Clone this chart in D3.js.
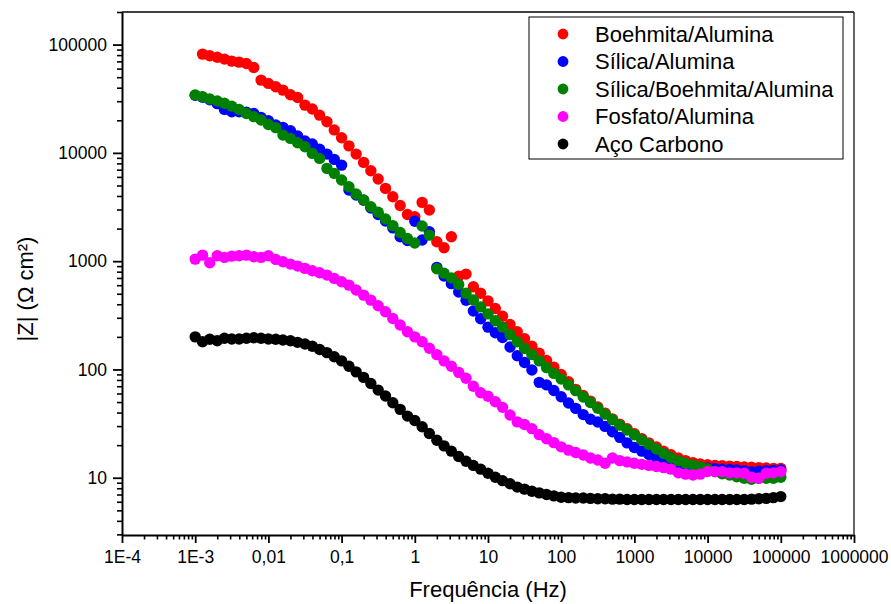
<!DOCTYPE html>
<html>
<head>
<meta charset="utf-8">
<script src="https://cdn.jsdelivr.net/npm/d3@7"></script>
<style>
  body { margin: 0; background: #fff; }
  svg text { font-family: "Liberation Sans", Arial, sans-serif; fill: #000; }
</style>
</head>
<body>
<svg id="chart" width="891" height="604"></svg>
<script>
// measurement frequencies (Hz), 10 points per decade
const freqHz = [
  0.001, 0.00126, 0.00158, 0.002, 0.00251, 0.00316, 0.00398, 0.00501, 0.00631, 0.00794,
  0.01, 0.0126, 0.0158, 0.02, 0.0251, 0.0316, 0.0398, 0.0501, 0.0631, 0.0794,
  0.1, 0.126, 0.158, 0.2, 0.251, 0.316, 0.398, 0.501, 0.631, 0.794,
  1, 1.26, 1.58, 2, 2.51, 3.16, 3.98, 5.01, 6.31, 7.94,
  10, 12.6, 15.8, 20, 25.1, 31.6, 39.8, 50.1, 63.1, 79.4,
  100, 126, 158, 200, 251, 316, 398, 501, 631, 794,
  1000, 1260, 1580, 2000, 2510, 3160, 3980, 5010, 6310, 7940,
  10000, 12600, 15800, 20000, 25100, 31600, 39800, 50100, 63100, 79400,
  100000
];

// |Z| in ohm cm2, one value per frequency (null = no point)
const boehmitaAlumina = [
  null, 81700, 78900, 76300, 73500, 70400, 68900, 66900, 61500, 47000,
  43800, 40800, 38000, 34400, 32500, 27600, 25400, 22300, 19400, 16300,
  13800, 11600, 9750, 8170, 6840, 5730, 4700, 3940, 3270, 2700,
  2570, 3490, 2970, 1510, 1330, 1680, 728, 760, 580, 506,
  430, 365, 310, 260, 223, 192, 164, 141, 121, 105,
  90, 77, 65.5, 57.5, 51, 45, 39.5, 35, 31.3, 28.3,
  25.5, 23, 21, 19.2, 17.6, 16.3, 15.2, 14.4, 13.8, 13.4,
  13.2, 13.0, 12.9, 12.8, 12.7, 12.6, 12.5, 12.4, 12.3, 12.2,
  12.2
];

const silicaAlumina = [
  34000, 32600, 31000, 28500, 25200, 24000, 24000, 23700, 23100, 21200,
  19800, 18100, 17200, 16000, 14300, 12900, 12100, 10800, 9750, 8710,
  7710, 4540, 4080, 3660, 3100, 2700, 2350, 2030, 1680, 1550,
  2340, 1570, 1870, 876, 730, 620, 520, 435, 347, 294,
  246, 218, 197, 161, 134, 116, 99, 76, 72, 64,
  56, 49, 43.7, 38.3, 34.7, 32.7, 29.8, 26.6, 23.6, 21,
  19, 17.6, 16.4, 15.4, 14.6, 14.0, 13.5, 13.1, 12.8, 12.5,
  12.3, 12.1, 12.0, 11.9, 11.8, 11.6, 11.4, 11.5, 11.6, 11.7,
  11.8
];

const silicaBoehmitaAlumina = [
  34200, 33000, 31400, 30100, 28700, 27000, 25200, 23100, 21600, 20100,
  18300, 17100, 14600, 13600, 12400, 11400, 9890, 8890, 7190, 6470,
  5610, 4870, 4170, 3670, 3180, 2830, 2450, 2130, 1840, 1620,
  1470, 2110, 1740, 850, 775, 700, 610, 505, 438, 378,
  326, 282, 246, 210, 180, 156, 137, 120, 104, 92,
  81.6, 72, 63.8, 55.7, 49.5, 43.9, 38.7, 34.3, 30.6, 27.6,
  24.9, 22.3, 20.3, 18.4, 16.8, 15.3, 14.4, 13.6, 13.1, 12.6,
  12.1, 11.4, 10.9, 10.6, 10.2, 9.9, 9.7, 9.9, 9.9, 9.9,
  10.1
];

const fosfatoAlumina = [
  1045, 1137, 968, 1122, 1084, 1114, 1122, 1137, 1099, 1084,
  1122, 1038, 988, 940, 901, 858, 816, 782, 744, 693,
  646, 601, 541, 486, 437, 388, 341, 296, 257, 223,
  200, 180, 157, 137, 120, 107, 94, 83, 70, 61,
  56.5, 50.4, 44.7, 38, 32.8, 31, 28.4, 25, 22.9, 21.1,
  19.3, 18, 17.1, 16.2, 15.2, 14.6, 13.6, 15.2, 14.4, 14.0,
  13.6, 13.3, 13.0, 12.7, 12.4, 12.0, 11.1, 10.8, 10.6, 10.8,
  11.4, 11.4, 11.4, 11.1, 11.1, 11.0, 10.1, 9.9, 11.0, 11.1,
  11.4
];

const acoCarbono = [
  200, 180, 190, 184, 194, 191, 191, 194, 196, 194,
  191, 190, 187, 184, 178, 172, 164, 153, 143, 131,
  120, 107, 95, 84.5, 74.3, 64.5, 56.8, 49.3, 42.8, 37.1,
  33.8, 29.6, 25.6, 22.2, 19.7, 17.6, 15.7, 14.2, 13.0, 12.0,
  11.0, 10.1, 9.4, 8.8, 8.2, 7.85, 7.5, 7.25, 7.0, 6.8,
  6.6, 6.55, 6.5, 6.5, 6.45, 6.4, 6.4, 6.35, 6.35, 6.3,
  6.3, 6.3, 6.3, 6.3, 6.3, 6.3, 6.3, 6.3, 6.3, 6.3,
  6.3, 6.3, 6.3, 6.3, 6.3, 6.3, 6.35, 6.4, 6.45, 6.55,
  6.7
];

const seriesNames = ["Boehmita/Alumina", "Sílica/Alumina", "Sílica/Boehmita/Alumina", "Fosfato/Alumina", "Aço Carbono"];
const seriesValues = [boehmitaAlumina, silicaAlumina, silicaBoehmitaAlumina, fosfatoAlumina, acoCarbono];
const seriesColors = ["#ff0000", "#0000ff", "#008000", "#ff00ff", "#000000"];

const xTickValues = [1e-4, 1e-3, 1e-2, 1e-1, 1, 10, 100, 1000, 10000, 100000, 1000000];
const xTickLabels = ["1E-4", "1E-3", "0,01", "0,1", "1", "10", "100", "1000", "10000", "100000", "1000000"];
const yTickValues = [10, 100, 1000, 10000, 100000];
const yTickLabels = ["10", "100", "1000", "10000", "100000"];

const width = 891, height = 604;
const margin = { top: 12, right: 37, bottom: 69, left: 122 };
const plotRight = width - margin.right;
const plotBottom = height - margin.bottom;

const svg = d3.select("#chart");

const xScale = d3.scaleLog()
  .domain([1e-4, 1e6])
  .range([margin.left, plotRight]);

const yScale = d3.scaleLog()
  .domain([2.96, 2.0e5])
  .range([plotBottom, margin.top]);

// minor ticks 2..9 of every decade
function minorTicks(lo, hi) {
  const out = [];
  for (let e = lo; e < hi; e++) {
    for (let m = 2; m <= 9; m++) {
      out.push(m * Math.pow(10, e));
    }
  }
  return out;
}
const xMinor = minorTicks(-4, 6);
const yMinor = minorTicks(0, 6).filter(v => v >= 3 && v <= 2.0e5);

const tickFont = 17.5;
const markerR = 5.7;

// bottom axis
svg.append("g")
  .attr("transform", "translate(0," + plotBottom + ")")
  .call(d3.axisBottom(xScale).tickValues(xMinor).tickSize(4.5).tickFormat(""))
  .call(g => g.select(".domain").remove())
  .selectAll("line").attr("stroke-width", 1.6);

const xAxisG = svg.append("g")
  .attr("transform", "translate(0," + plotBottom + ")")
  .call(d3.axisBottom(xScale)
    .tickValues(xTickValues)
    .tickFormat((d, i) => xTickLabels[i])
    .tickSize(8)
    .tickSizeOuter(0)
    .tickPadding(8));
xAxisG.select(".domain").attr("stroke-width", 2);
xAxisG.selectAll("line").attr("stroke-width", 1.8);
xAxisG.selectAll("text")
  .attr("font-size", tickFont)
  .style("font-family", '"Liberation Sans", Arial, sans-serif');

// left axis
svg.append("g")
  .attr("transform", "translate(" + margin.left + ",0)")
  .call(d3.axisLeft(yScale).tickValues(yMinor).tickSize(5).tickFormat(""))
  .call(g => g.select(".domain").remove())
  .selectAll("line").attr("stroke-width", 1.6);

const yAxisG = svg.append("g")
  .attr("transform", "translate(" + margin.left + ",0)")
  .call(d3.axisLeft(yScale)
    .tickValues(yTickValues)
    .tickFormat((d, i) => yTickLabels[i])
    .tickSize(9)
    .tickSizeOuter(0)
    .tickPadding(6));
yAxisG.select(".domain").attr("stroke-width", 2);
yAxisG.selectAll("line").attr("stroke-width", 1.8);
yAxisG.selectAll("text")
  .attr("font-size", tickFont)
  .style("font-family", '"Liberation Sans", Arial, sans-serif');

// top and right frame
svg.append("line")
  .attr("x1", margin.left).attr("x2", plotRight)
  .attr("y1", margin.top).attr("y2", margin.top)
  .attr("stroke", "#000").attr("stroke-width", 1.5);
svg.append("line")
  .attr("x1", plotRight).attr("x2", plotRight)
  .attr("y1", margin.top).attr("y2", plotBottom)
  .attr("stroke", "#333").attr("stroke-width", 1.5);

// axis titles
svg.append("text")
  .attr("x", (margin.left + plotRight) / 2)
  .attr("y", 597)
  .attr("text-anchor", "middle")
  .attr("font-size", 22)
  .text("Frequência (Hz)");

svg.append("text")
  .attr("transform", "translate(33,289) rotate(-90)")
  .attr("text-anchor", "middle")
  .attr("font-size", 22)
  .text("|Z| (Ω cm²)");

// scatter series, drawn in legend order
const points = svg.append("g").attr("class", "points");
seriesValues.forEach((vals, s) => {
  const data = freqHz
    .map((f, i) => ({ f: f, z: vals[i] }))
    .filter(d => d.z != null);
  points.append("g")
    .attr("fill", seriesColors[s])
    .selectAll("circle")
    .data(data)
    .enter()
    .append("circle")
    .attr("cx", d => xScale(d.f))
    .attr("cy", d => yScale(d.z))
    .attr("r", markerR);
});

// legend
const legend = svg.append("g").attr("class", "legend");
legend.append("rect")
  .attr("x", 529).attr("y", 17)
  .attr("width", 314).attr("height", 142)
  .attr("fill", "#fff")
  .attr("stroke", "#000")
  .attr("stroke-width", 1);

legend.selectAll(".legend-dot")
  .data(seriesNames)
  .enter()
  .append("circle")
  .attr("class", "legend-dot")
  .attr("cx", 563)
  .attr("cy", (d, i) => 34 + i * 27.5)
  .attr("r", 5.4)
  .attr("fill", (d, i) => seriesColors[i]);

legend.selectAll(".legend-label")
  .data(seriesNames)
  .enter()
  .append("text")
  .attr("class", "legend-label")
  .attr("x", 595)
  .attr("y", (d, i) => 34 + i * 27.5)
  .attr("dy", "0.36em")
  .attr("font-size", 22)
  .text(d => d);
</script>
</body>
</html>
